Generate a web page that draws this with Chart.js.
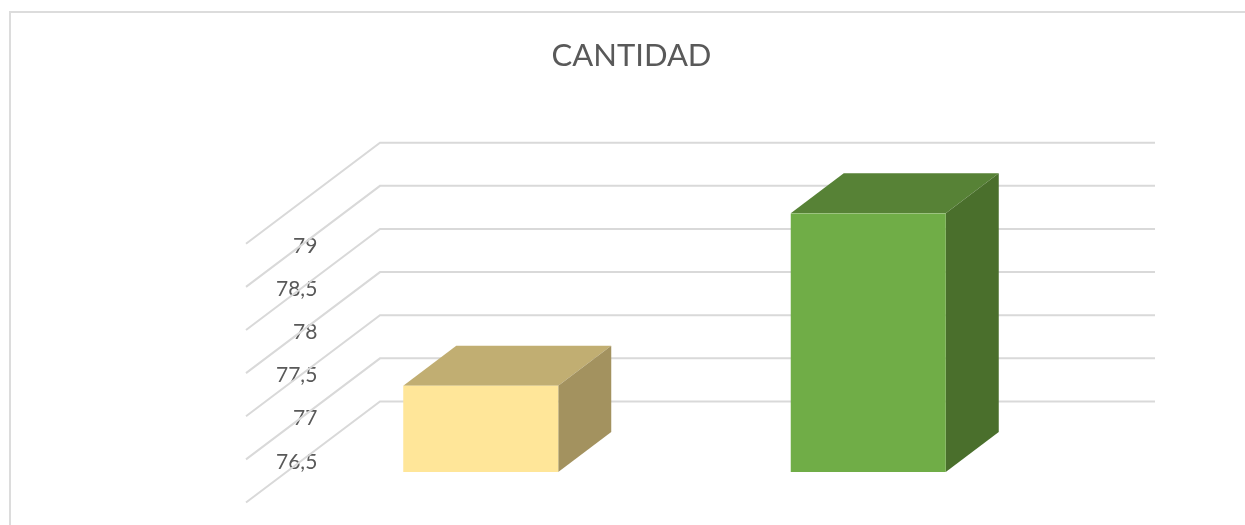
<!DOCTYPE html>
<html><head><meta charset="utf-8">
<style>
html,body{margin:0;padding:0;background:#fff;overflow:hidden;width:1245px;height:525px}
#frame{position:absolute;left:9px;top:11px;width:1236px;height:514px;border-left:2px solid #dcdcdc;border-top:2px solid #dcdcdc;overflow:hidden;background:#fff}
#wrap{position:absolute;left:0;top:0;width:1244px;height:512px}
</style>
<script src="https://cdn.jsdelivr.net/npm/chart.js@4"></script>
</head><body>
<div id="frame"><div id="wrap"><canvas id="c"></canvas></div></div>
<script>
const categories = ['1', '2'];
const cantidad = [77, 79];
const tickLabels = ['', '76,5', '77', '77,5', '78', '78,5', '79'];
const frontColors = ['#ffe699', '#70ad47'];
const topColors = ['#c1ae72', '#578236'];
const sideColors = ['#a3925f', '#4a6f2c'];

const FONT = 'Lato';
const DEPTH = {x: 53, y: 40};
const WALL = {backDx: 93, backDy: 70.5, frontDx: -41, frontDy: 30.5};

const box3d = {
  id: 'box3d',
  beforeDatasetsDraw(chart) {
    const {ctx, scales: {x, y}} = chart;
    ctx.save();
    ctx.strokeStyle = '#d9d9d9';
    ctx.lineWidth = 2;
    ctx.lineJoin = 'miter';
    y.ticks.forEach(t => {
      const py = y.getPixelForValue(t.value);
      ctx.beginPath();
      ctx.moveTo(x.left + WALL.frontDx, py + WALL.frontDy);
      ctx.lineTo(x.left + WALL.backDx, py - WALL.backDy);
      ctx.lineTo(x.right + WALL.backDx, py - WALL.backDy);
      ctx.stroke();
    });
    ctx.restore();
    // top and side faces sit behind the front faces the library draws
    const meta = chart.getDatasetMeta(0);
    const floor = y.getPixelForValue(y.min);
    ctx.save();
    meta.data.forEach((b, i) => {
      const p = b.getProps(['x', 'y', 'width'], true);
      const l = p.x - p.width / 2, r = p.x + p.width / 2;
      ctx.fillStyle = topColors[i];
      ctx.beginPath();
      ctx.moveTo(l, p.y);
      ctx.lineTo(l + DEPTH.x, p.y - DEPTH.y);
      ctx.lineTo(r + DEPTH.x, p.y - DEPTH.y);
      ctx.lineTo(r, p.y);
      ctx.closePath();
      ctx.fill();
      ctx.fillStyle = sideColors[i];
      ctx.beginPath();
      ctx.moveTo(r, p.y);
      ctx.lineTo(r + DEPTH.x, p.y - DEPTH.y);
      ctx.lineTo(r + DEPTH.x, floor - DEPTH.y);
      ctx.lineTo(r, floor);
      ctx.closePath();
      ctx.fill();
    });
    ctx.restore();
  }
};

new Chart(document.getElementById('c'), {
  type: 'bar',
  data: {
    labels: categories,
    datasets: [{
      label: 'CANTIDAD',
      data: cantidad,
      backgroundColor: frontColors,
      borderWidth: 0,
      barPercentage: 0.4,
      categoryPercentage: 1
    }]
  },
  options: {
    responsive: true,
    maintainAspectRatio: false,
    animation: false,
    layout: {padding: {left: 190, right: 193, top: 0, bottom: 45}},
    plugins: {
      legend: {display: false},
      tooltip: {enabled: false},
      title: {
        display: true,
        text: 'CANTIDAD',
        color: '#595959',
        font: {family: FONT, size: 31, weight: 'normal'},
        padding: {top: 24, bottom: 139}
      }
    },
    scales: {
      x: {
        grid: {display: false},
        border: {display: false},
        ticks: {display: false}
      },
      y: {
        min: 76,
        max: 79,
        afterFit(s) { s.width = 86; },
        grid: {display: false, drawTicks: false},
        border: {display: false},
        ticks: {
          stepSize: 0.5,
          mirror: true,
          crossAlign: 'far',
          padding: -11,
          labelOffset: 33,
          color: '#595959',
          font: {family: FONT, size: 21},
          callback: (v, i) => tickLabels[i]
        }
      }
    }
  },
  plugins: [box3d]
});
</script>
</body></html>
